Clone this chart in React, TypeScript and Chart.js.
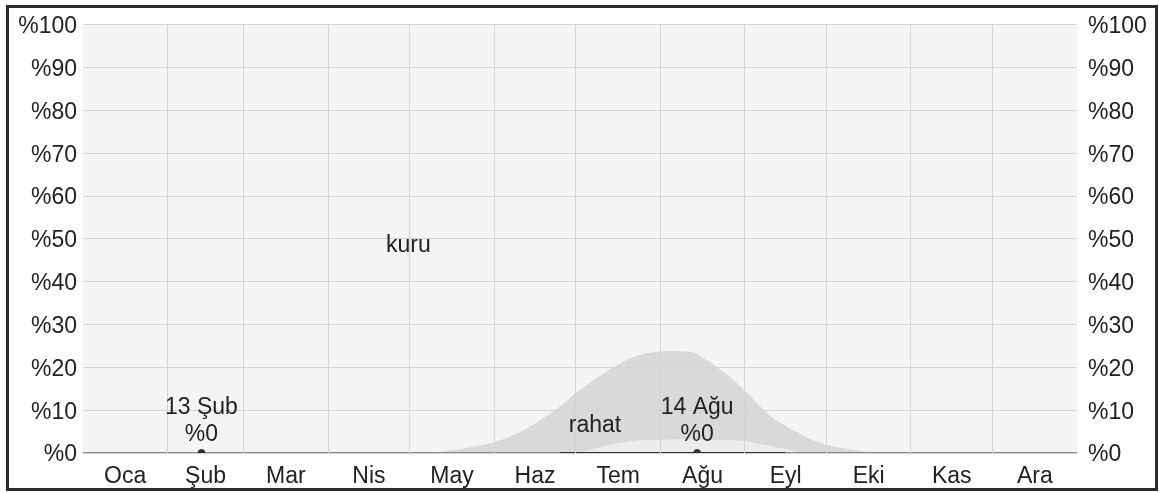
import React, { useEffect, useRef } from "react";
import { Chart, registerables } from "chart.js";

Chart.register(...registerables);

const days = [0, 31, 59, 90, 120, 131, 141, 151, 160, 168, 175, 181, 187, 192, 198, 204, 209, 216, 224, 229, 234, 239, 244, 248, 253, 258, 263, 268, 274, 279, 284, 293, 304, 334, 365];
const nemli = [0, 0, 0, 0, 0, 0, 0, 0, 0, 0, 0, 0, 0.8, 1.6, 2.4, 2.9, 3, 3.1, 3.1, 3, 3, 2.9, 2.6, 2.1, 1.5, 0.8, 0.2, 0, 0, 0, 0, 0, 0, 0, 0];
const rahat = [0, 0, 0, 0, 0, 0.3, 1.2, 2.5, 4.8, 7.7, 10.8, 14, 16, 17.4, 18.8, 19.9, 20.5, 20.7, 20.4, 18.7, 16.5, 14.1, 11.4, 9.2, 6.9, 5.5, 4.4, 3, 1.8, 1.1, 0.7, 0, 0, 0, 0];
const kuru = [100, 100, 100, 100, 100, 99.7, 98.8, 97.5, 95.2, 92.3, 89.2, 86, 83.2, 81, 78.8, 77.2, 76.5, 76.2, 76.5, 78.3, 80.5, 83, 86, 88.7, 91.6, 93.7, 95.4, 97, 98.2, 98.9, 99.3, 100, 100, 100, 100];
const bunaltici = [0, 0, 0, 0, 0, 0, 0, 0, 0, 0, 0, 0, 0, 0, 0, 0, 0, 0, 0, 0, 0, 0, 0, 0, 0, 0, 0, 0, 0, 0, 0, 0, 0, 0, 0];

const monthNames = ["Oca", "Şub", "Mar", "Nis", "May", "Haz", "Tem", "Ağu", "Eyl", "Eki", "Kas", "Ara"];
const monthStarts = [0, 31, 59, 90, 120, 151, 181, 212, 243, 273, 304, 334, 365];
const yTicks = [0, 10, 20, 30, 40, 50, 60, 70, 80, 90, 100];

const markerDays = [43.5, 225.5];
const markerValues = [0, 0];
const markerLabels = ["13 Şub", "14 Ağu"];

const bandLabels = [
  { text: "kuru", x: 119.5, y: 48.5 },
  { text: "rahat", x: 188, y: 6.5 },
];

const FONT = "'Liberation Sans', Arial, sans-serif";
const TEXT = "#222";
const GRID = "#d4d4d4";

export default function App() {
  const ref = useRef<HTMLCanvasElement | null>(null);

  useEffect(() => {
    const canvas = ref.current;
    if (!canvas) return;
    document.body.style.margin = "0";

    const labelPlugin = {
      id: "labels",
      afterDraw(chart: any) {
        const ctx = chart.ctx;
        const xs = chart.scales.x;
        const ys = chart.scales.y;
        ctx.save();
        ctx.fillStyle = TEXT;
        ctx.font = `23px ${FONT}`;
        ctx.textAlign = "center";
        ctx.textBaseline = "middle";
        bandLabels.forEach((b) => {
          ctx.fillText(b.text, xs.getPixelForValue(b.x), ys.getPixelForValue(b.y));
        });
        markerDays.forEach((d, i) => {
          const px = xs.getPixelForValue(d);
          const py = ys.getPixelForValue(markerValues[i]);
          ctx.fillText(markerLabels[i], px, py - 45);
          ctx.fillText("%" + markerValues[i], px, py - 18);
        });
        ctx.restore();
      },
    };

    const mk = (arr: number[]) => arr.map((v, i) => ({ x: days[i], y: v }));

    const chart = new Chart(canvas, {
      type: "line",
      data: {
        datasets: [
          {
            label: "nemli",
            data: mk(nemli),
            stack: "area",
            fill: "origin",
            backgroundColor: "#ececec",
            borderWidth: 0,
            pointRadius: 0,
            cubicInterpolationMode: "monotone",
            order: 3,
          },
          {
            label: "rahat",
            data: mk(rahat),
            stack: "area",
            fill: "-1",
            backgroundColor: "#d9d9d9",
            borderWidth: 0,
            pointRadius: 0,
            cubicInterpolationMode: "monotone",
            order: 3,
          },
          {
            label: "kuru",
            data: mk(kuru),
            stack: "area",
            fill: "-1",
            backgroundColor: "#f4f4f4",
            borderWidth: 0,
            pointRadius: 0,
            cubicInterpolationMode: "monotone",
            order: 3,
          },
          {
            label: "bunaltıcı",
            data: mk(bunaltici),
            stack: "line",
            fill: false,
            borderColor: "#8a8a8a",
            borderWidth: 2,
            pointRadius: 0,
            segment: {
              borderColor: (c: any) =>
                c.p0.parsed.x >= 175 && c.p1.parsed.x <= 258 ? "#333" : "#8a8a8a",
            },
            order: 2,
          },
          {
            label: "markers",
            data: markerDays.map((d, i) => ({ x: d, y: markerValues[i] })),
            stack: "markers",
            showLine: false,
            pointRadius: 3.5,
            pointBackgroundColor: "#333",
            pointBorderColor: "#333",
            order: 1,
          },
        ] as any,
      },
      options: {
        animation: false,
        responsive: false,
        events: [],
        layout: { padding: { top: 24, left: 0, right: 0, bottom: 0 } },
        plugins: { legend: { display: false }, tooltip: { enabled: false } },
        scales: {
          x: {
            type: "linear",
            min: 0,
            max: 365,
            position: "bottom",
            border: { display: false },
            grid: {
              color: (c: any) => (c.index === 0 || c.index === monthStarts.length - 1 ? "rgba(0,0,0,0)" : GRID),
              lineWidth: 1,
              drawTicks: false,
              z: 1,
            },
            ticks: { display: false },
            afterBuildTicks: (s: any) => {
              s.ticks = monthStarts.map((v) => ({ value: v }));
            },
            afterFit: (s: any) => {
              s.height = 0;
            },
          },
          xl: {
            type: "linear",
            min: 0,
            max: 365,
            position: "bottom",
            border: { display: false },
            grid: { display: false },
            ticks: {
              color: TEXT,
              font: { family: FONT, size: 23 },
              padding: 2,
              maxRotation: 0,
              autoSkip: false,
              callback: (_v: any, i: number) => monthNames[i],
            },
            afterBuildTicks: (s: any) => {
              s.ticks = monthStarts.slice(0, 12).map((v, i) => ({ value: (v + monthStarts[i + 1]) / 2 }));
            },
            afterFit: (s: any) => {
              s.height = 40;
            },
          },
          y: {
            type: "linear",
            stacked: true,
            min: 0,
            max: 100,
            position: "left",
            border: { display: false },
            grid: { color: GRID, lineWidth: 1, drawTicks: false, z: 1 },
            ticks: {
              color: TEXT,
              font: { family: FONT, size: 23 },
              padding: 6,
              labelOffset: 2,
              callback: (v: any) => "%" + v,
            },
            afterBuildTicks: (s: any) => {
              s.ticks = yTicks.map((v) => ({ value: v }));
            },
            afterFit: (s: any) => {
              s.width = 83;
            },
          },
          y2: {
            type: "linear",
            min: 0,
            max: 100,
            position: "right",
            border: { display: false },
            grid: { display: false, drawTicks: false },
            ticks: {
              color: TEXT,
              font: { family: FONT, size: 23 },
              padding: 11,
              labelOffset: 2,
              callback: (v: any) => "%" + v,
            },
            afterBuildTicks: (s: any) => {
              s.ticks = yTicks.map((v) => ({ value: v }));
            },
            afterFit: (s: any) => {
              s.width = 82;
            },
          },
        },
      } as any,
      plugins: [labelPlugin],
    });

    return () => chart.destroy();
  }, []);

  return (
    <div style={{ position: "fixed", left: 0, top: 0, width: 1159, height: 493, background: "#fff" }}>
      <canvas ref={ref} width={1159} height={493} style={{ position: "absolute", left: 0, top: 0, width: 1159, height: 493 }} />
      <div
        style={{
          position: "absolute",
          left: 6,
          top: 5,
          width: 1152,
          height: 486,
          boxSizing: "border-box",
          border: "3px solid #2b2b2b",
          pointerEvents: "none",
        }}
      />
    </div>
  );
}
